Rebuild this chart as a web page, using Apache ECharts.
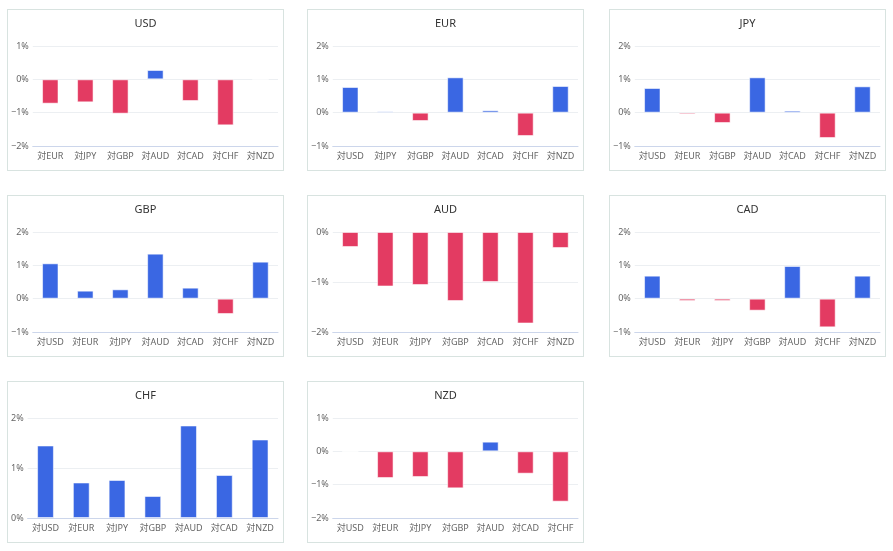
<!DOCTYPE html>
<html>
<head>
<meta charset="utf-8">
<script src="https://cdn.jsdelivr.net/npm/echarts@6/dist/echarts.min.js"></script>
<style>
  html, body { margin: 0; padding: 0; background: #ffffff; width: 893px; height: 551px; overflow: hidden; }
  .panel { position: absolute; width: 277px; height: 162px; box-sizing: border-box; border: 1px solid #d8e3e0; background: #fff; }
  .panel > div { width: 275px; height: 160px; }
</style>
</head>
<body>
<script>
// ---- data ----
const currencies = ["USD", "EUR", "JPY", "GBP", "AUD", "CAD", "CHF", "NZD"];
const usdValues = [-0.73, -0.69, -1.03, 0.28, -0.65, -1.38, 0];
const eurValues = [0.77, 0.04, -0.25, 1.06, 0.07, -0.70, 0.80];
const jpyValues = [0.74, -0.05, -0.31, 1.06, 0.06, -0.76, 0.79];
const gbpValues = [1.06, 0.24, 0.28, 1.35, 0.33, -0.46, 1.11];
const audValues = [-0.30, -1.09, -1.06, -1.38, -1.00, -1.83, -0.32];
const cadValues = [0.69, -0.07, -0.07, -0.36, 0.98, -0.86, 0.69];
const chfValues = [1.45, 0.71, 0.76, 0.44, 1.85, 0.86, 1.57];
const nzdValues = [-0.01, -0.80, -0.77, -1.11, 0.29, -0.67, -1.51];
const axisMin = [-2, -1, -1, -1, -2, -1, 0, -2];
const axisMax = [1, 2, 2, 2, 0, 2, 2, 1];

const panelValues = [usdValues, eurValues, jpyValues, gbpValues, audValues, cadValues, chfValues, nzdValues];

// ---- layout ----
const colLeft = [7, 307, 609];
const rowTop = [9, 195, 381];
const BLUE = '#3a67e3';
const RED = '#e33b62';
const FONT = '"Noto Sans", "Noto Sans CJK JP", sans-serif';

currencies.forEach(function (cur, i) {
  const panel = document.createElement('div');
  panel.className = 'panel';
  panel.style.left = colLeft[i % 3] + 'px';
  panel.style.top = rowTop[Math.floor(i / 3)] + 'px';
  const inner = document.createElement('div');
  panel.appendChild(inner);
  document.body.appendChild(panel);

  const cats = currencies.filter(function (c) { return c !== cur; }).map(function (c) { return '対' + c; });
  const vals = panelValues[i];

  const chart = echarts.init(inner, null, { renderer: 'canvas' });
  chart.setOption({
    animation: false,
    textStyle: { fontFamily: FONT },
    title: {
      text: cur, left: 'center', top: 3,
      textStyle: { fontSize: 11, fontWeight: 'normal', color: '#333', fontFamily: FONT }
    },
    grid: { left: 3, right: 5, top: 36, bottom: 9, containLabel: true },
    xAxis: {
      type: 'category', data: cats,
      axisTick: { show: false },
      axisLine: { onZero: false, lineStyle: { color: '#ccd6eb' } },
      axisLabel: { fontSize: 9, color: '#666', margin: 6, interval: 0, fontFamily: FONT }
    },
    yAxis: {
      type: 'value', min: axisMin[i], max: axisMax[i], interval: 1,
      axisLine: { show: false }, axisTick: { show: false },
      splitLine: { lineStyle: { color: '#eceff2' } },
      axisLabel: {
        fontSize: 9, color: '#666', margin: 4, fontFamily: FONT,
        formatter: function (v) { return (v < 0 ? '\u2212' + Math.abs(v) : v) + '%'; }
      }
    },
    series: [{
      type: 'bar', data: vals, barWidth: '47%',
      itemStyle: {
        color: function (p) { return p.value >= 0 ? BLUE : RED; },
        borderColor: 'rgba(255,255,255,0.55)', borderWidth: 1
      }
    }]
  });
});
</script>
</body>
</html>
